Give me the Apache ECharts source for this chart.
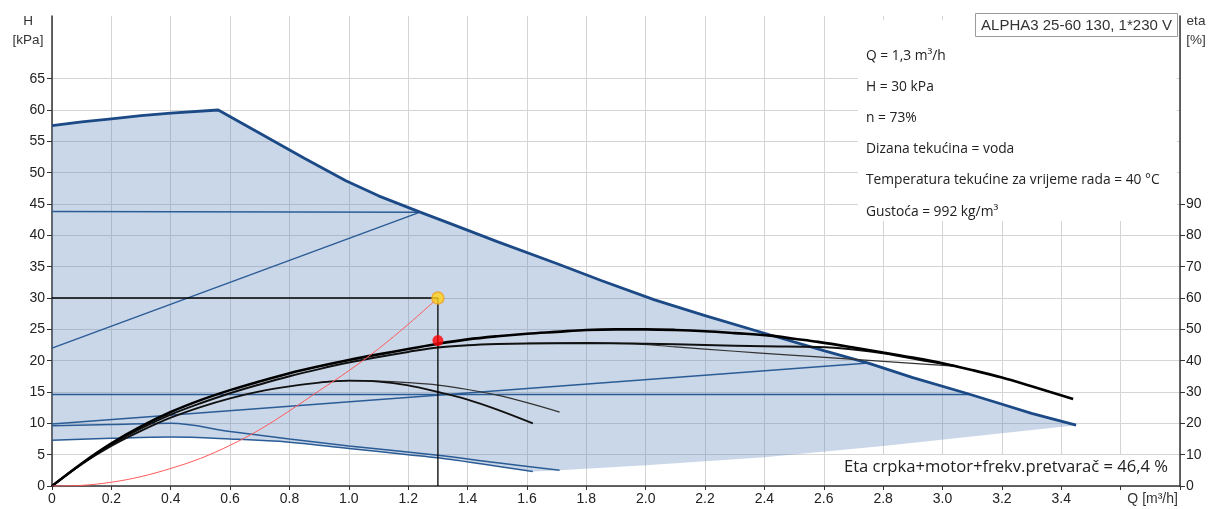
<!DOCTYPE html>
<html><head><meta charset="utf-8">
<script src="https://cdn.jsdelivr.net/npm/echarts@6/dist/echarts.min.js"></script>
<style>html,body{margin:0;padding:0;background:#fff}#c{width:1215px;height:509px}</style>
</head><body><div id="c"></div>
<script>
// ---- data (Q in m3/h, H in kPa, eta in %) ----
const xTickLabels = ['0','0.2','0.4','0.6','0.8','1.0','1.2','1.4','1.6','1.8','2.0','2.2','2.4','2.6','2.8','3.0','3.2','3.4','Q [m³/h]',''];
const hTickValues = [0,5,10,15,20,25,30,35,40,45,50,55,60,65];
const etaTickValues = [0,10,20,30,40,50,60,70,80,90];

const maxCurve = [[0,57.5],[0.1,58.1],[0.2,58.6],[0.3,59.1],[0.4,59.5],[0.56,60.0],[0.7,56.3],[0.85,52.3],[0.99,48.7],[1.1,46.3],[1.24,43.7],[1.34,41.9],[1.5,39.0],[1.7,35.5],[1.85,32.8],[2.03,29.7],[2.2,27.2],[2.42,24.1],[2.6,21.6],[2.75,19.6],[2.9,17.3],[3.08,14.8],[3.19,13.2],[3.3,11.6],[3.45,9.7]];
const minCurve = [[0,7.3],[0.2,7.6],[0.4,7.8],[0.6,7.5],[0.8,7.0],[1.0,6.0],[1.2,5.0],[1.3,4.5],[1.45,3.5],[1.62,2.3],[1.71,2.5],[2.0,3.3],[2.4,4.6],[2.8,6.4],[3.2,8.4],[3.45,9.7]];

const line43 = [[0,43.8],[1.24,43.7]];
const line22 = [[0,22.0],[1.24,43.7]];
const line14 = [[0,14.6],[3.09,14.6]];
const line10 = [[0,9.9],[2.74,19.6]];
const line96 = [[0,9.6],[0.2,9.8],[0.4,10.0],[0.6,8.7],[0.8,7.5],[1.0,6.4],[1.3,4.9],[1.5,3.7],[1.71,2.5]];
const line73 = [[0,7.3],[0.2,7.6],[0.4,7.8],[0.6,7.5],[0.8,7.0],[1.0,6.0],[1.2,5.0],[1.3,4.5],[1.45,3.5],[1.62,2.3]];

const etaA = [[0,0],[0.1,7.2],[0.2,13.6],[0.3,19.0],[0.4,23.6],[0.5,27.4],[0.6,30.6],[0.7,33.4],[0.8,36.0],[0.9,38.2],[1.0,40.2],[1.1,42.0],[1.2,43.7],[1.3,45.4],[1.4,46.8],[1.5,47.8],[1.6,48.6],[1.7,49.2],[1.8,49.8],[1.9,50.0],[2.0,50.0],[2.1,49.8],[2.2,49.4],[2.3,48.8],[2.42,48.0],[2.5,47.0],[2.58,46.0],[2.7,44.2],[2.8,42.6],[2.9,41.0],[3.0,39.2],[3.1,37.0],[3.2,34.6],[3.3,31.8],[3.44,27.8]];
const etaB = [[0,0],[0.1,7.0],[0.2,13.2],[0.3,18.4],[0.4,22.8],[0.5,26.4],[0.6,29.6],[0.7,32.4],[0.8,35.0],[0.9,37.3],[1.0,39.4],[1.1,41.2],[1.2,42.8],[1.3,44.2],[1.4,44.9],[1.5,45.3],[1.6,45.5],[1.8,45.6],[2.0,45.4],[2.2,45.0],[2.4,44.6],[2.58,44.4],[2.7,43.6],[2.8,42.4],[2.95,39.8],[3.05,38.2]];
const etaB2 = [[1.6,45.5],[1.8,45.6],[1.95,45.4],[2.1,44.4],[2.3,43.0],[2.45,42.0],[2.58,41.2],[2.8,39.8],[2.95,38.8],[3.05,38.2]];
const etaC = [[0,0],[0.1,7.0],[0.2,12.8],[0.3,17.6],[0.4,21.8],[0.5,25.2],[0.6,28.0],[0.7,30.2],[0.8,31.8],[0.9,33.0],[1.0,33.6],[1.1,33.3],[1.2,32.1],[1.3,30.0],[1.4,27.6],[1.5,24.4],[1.62,20.0]];
const etaC2 = [[0.9,33.0],[1.0,33.6],[1.1,33.5],[1.2,33.0],[1.3,32.2],[1.4,30.8],[1.5,29.0],[1.6,26.6],[1.71,23.6]];

const systemCurve = [[0,0],[0.1,0.1],[0.2,0.6],[0.3,1.5],[0.4,2.8],[0.5,4.4],[0.6,6.5],[0.7,9.0],[0.8,12.0],[0.9,15.2],[1.0,18.4],[1.1,21.9],[1.2,25.8],[1.3,30.0]];
const dutyPoint = [[1.3,30]];
const dutyEta = [[1.3,46.4]];
const dutyLines = [[0,30],[1.3,30],[1.3,0]];

const infoLines = ['Q = 1,3 m³/h','H = 30 kPa','n = 73%','Dizana tekućina = voda','Temperatura tekućine za vrijeme rada = 40 °C','Gustoća = 992 kg/m³'];
const etaText = 'Eta crpka+motor+frekv.pretvarač = 46,4 %';
const titleText = 'ALPHA3 25-60 130, 1*230 V';

// ---- chart ----
const shadePoly = maxCurve.concat(minCurve.slice().reverse());
const blue = '#2b5c96', darkBlue = '#1c4a86';
const axisFont = {color:'#222', fontSize:14, fontFamily:'Liberation Sans, Arial, sans-serif'};

function line(data, color, width, yi) {
  return {type:'line', data, yAxisIndex: yi||0, showSymbol:false, smooth:false, silent:true,
    lineStyle:{color, width}, z:3};
}
function curve(data, color, width, yi) {
  const s = line(data, color, width, yi); s.smooth = 0.35; return s;
}

const chart = echarts.init(document.getElementById('c'), null, {renderer:'canvas'});
chart.setOption({
  animation:false,
  backgroundColor:'#fff',
  title:{text:titleText, right:37, top:13, padding:[5,6,4,6], borderColor:'#9a9a9a', borderWidth:1, backgroundColor:'#fff',
    textStyle:{color:'#333', fontSize:15, fontWeight:'normal', fontFamily:'Liberation Sans, Arial, sans-serif'}},
  grid:{left:52, right:35, top:16, bottom:23, containLabel:false},
  xAxis:{type:'value', min:0, max:3.8, interval:0.2,
    axisLine:{lineStyle:{color:'#333', width:1.5}},
    axisTick:{show:true, inside:false, length:4, lineStyle:{color:'#333'}},
    axisLabel:Object.assign({margin:6, formatter:(v)=>{const i=Math.round(v/0.2); const t=xTickLabels[i]||''; return i===18?'{q|'+t+'}':t;},
      rich:{q:{padding:[0,0,0,64], fontSize:14, color:'#333', fontFamily:'Liberation Sans, Arial, sans-serif'}}}, axisFont),
    splitLine:{show:true, lineStyle:{color:'#d4d4d4', width:1}}},
  yAxis:[
    {type:'value', min:0, max:75, interval:5, name:'H\n[kPa]', nameLocation:'end', nameGap:4,
      nameTextStyle:{color:'#333', fontSize:13.5, lineHeight:19, align:'center', verticalAlign:'top', padding:[0,48,0,0], fontFamily:'Liberation Sans, Arial, sans-serif'},
      axisLine:{show:true, lineStyle:{color:'#333', width:1.5}},
      axisTick:{show:true, length:5, lineStyle:{color:'#333'}, customValues:hTickValues},
      axisLabel:Object.assign({margin:7, customValues:hTickValues}, axisFont),
      splitLine:{show:true, lineStyle:{color:'#d4d4d4', width:1}}},
    {type:'value', min:0, max:150, interval:10, position:'right', name:'eta\n[%]', nameLocation:'end', nameGap:4,
      nameTextStyle:{color:'#333', fontSize:13.5, lineHeight:19, align:'center', verticalAlign:'top', padding:[0,0,0,32], fontFamily:'Liberation Sans, Arial, sans-serif'},
      axisLine:{show:true, lineStyle:{color:'#333', width:1.5}},
      axisTick:{show:true, length:5, lineStyle:{color:'#333'}, customValues:etaTickValues},
      axisLabel:Object.assign({margin:6, customValues:etaTickValues}, axisFont),
      splitLine:{show:false}}
  ],
  graphic:[
    {type:'rect', z:1, shape:{x:858, y:20, width:319, height:201}, style:{fill:'#fff'}, silent:true},
    {type:'text', z:1, x:866, y:40, style:{text:infoLines.join('\n'), font:'13.8px "Open Sans", Lato, sans-serif', lineHeight:31.2, fill:'#222', verticalAlign:'top'}, silent:true},
    {type:'rect', z:1, shape:{x:836, y:455, width:341, height:30}, style:{fill:'#fff'}, silent:true},
    {type:'text', z:1, x:1168, y:467, style:{text:etaText, font:'16.6px "Open Sans", Lato, sans-serif', fill:'#222', align:'right', verticalAlign:'middle'}, silent:true}
  ],
  series:[
    {type:'custom', silent:true, z:2, data:[[0,0]],
      renderItem:(params, api)=>({type:'polygon', shape:{points:shadePoly.map(p=>api.coord(p))},
        style:{fill:'rgba(95,135,184,0.33)'}})},
    line(line43, blue, 1.5),
    line(line22, blue, 1.5),
    line(line14, blue, 1.5),
    line(line10, blue, 1.5),
    curve(line96, blue, 1.5),
    curve(line73, blue, 1.5),
    line(maxCurve, darkBlue, 2.8),
    curve(etaC2, '#333', 1.2, 1),
    curve(etaC, '#111', 1.8, 1),
    curve(etaB2, '#333', 1.2, 1),
    curve(etaB, '#111', 2.0, 1),
    curve(etaA, '#000', 2.6, 1),
    curve(systemCurve, '#ff5a5a', 1, 0),
    line(dutyLines, '#000', 1.3),
    {type:'scatter', data:dutyPoint, symbolSize:12, silent:true, z:5,
      itemStyle:{color:'#ffd51a', borderColor:'#f0a020', borderWidth:1.5}},
    {type:'scatter', data:dutyEta, yAxisIndex:1, symbolSize:11, silent:true, z:5,
      itemStyle:{color:'#ff0000'}}
  ]
});
</script></body></html>
